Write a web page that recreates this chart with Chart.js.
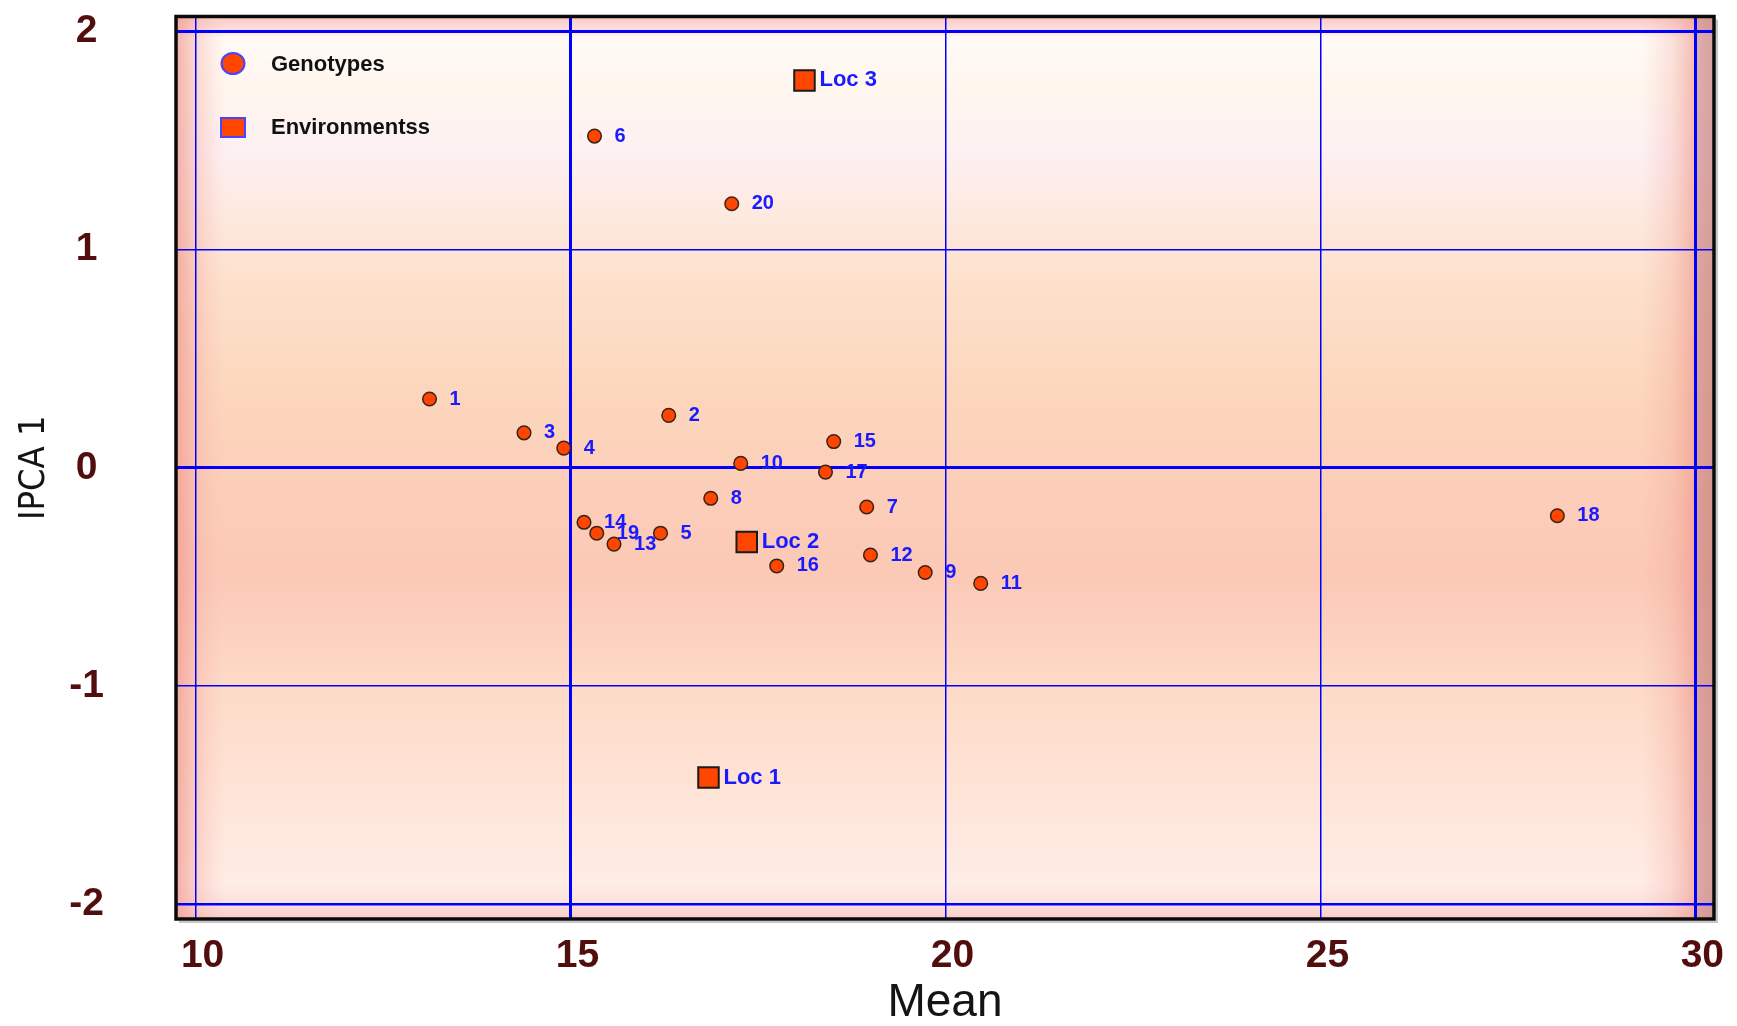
<!DOCTYPE html>
<html>
<head>
<meta charset="utf-8">
<title>AMMI biplot: Mean vs IPCA 1</title>
<script src="https://cdn.jsdelivr.net/npm/chart.js@4.4.1/dist/chart.umd.min.js"></script>
<style>
  html, body { margin: 0; padding: 0; background: #ffffff; }
  #wrap { position: relative; width: 1737px; height: 1026px; }
</style>
</head>
<body>
<div id="wrap"><canvas id="biplot"></canvas></div>
<script>
// Genotype means and first interaction principal component scores
const genotypeIds = ['1', '2', '3', '4', '5', '6', '7', '8', '9', '10',
                     '11', '12', '13', '14', '15', '16', '17', '18', '19', '20'];
const genotypeMean = [13.12, 16.31, 14.38, 14.91, 16.20, 15.32, 18.95, 16.87, 19.73, 17.27,
                      20.47, 19.00, 15.58, 15.18, 18.51, 17.75, 18.40, 28.16, 15.35, 17.15];
const genotypeIpca1 = [0.315, 0.24, 0.16, 0.09, -0.30, 1.52, -0.18, -0.14, -0.48, 0.02,
                       -0.53, -0.40, -0.35, -0.25, 0.12, -0.45, -0.02, -0.22, -0.30, 1.21];

// Test locations
const environmentNames = ['Loc 1', 'Loc 2', 'Loc 3'];
const environmentMean = [16.84, 17.35, 18.12];
const environmentIpca1 = [-1.42, -0.34, 1.775];

// Series names and axis ticks
const seriesNames = ['Genotypes', 'Environmentss'];
const meanTicks = [10, 15, 20, 25, 30];
const ipcaTicks = [-2, -1, 0, 1, 2];

const ORANGE = '#ff4500';
const TAG_BLUE = '#1a1aff';
const GRID_BLUE = '#0000ff';
const TICK_COLOR = '#520d0d';
const SANS = "'Liberation Sans', Arial, Helvetica, sans-serif";

// Soft peach/pink bevelled backdrop behind the plotting region
const plotBackdrop = {
  id: 'plotBackdrop',
  beforeDraw(chart) {
    const { ctx, chartArea: a } = chart;
    const w = a.right - a.left, h = a.bottom - a.top;
    ctx.save();
    ctx.beginPath();
    ctx.rect(a.left, a.top, w, h);
    ctx.clip();

    const v = ctx.createLinearGradient(0, a.top, 0, a.bottom);
    [
      [0.000, '#f9c8c6'], [0.016, '#fde2df'], [0.024, '#fffaf6'],
      [0.080, '#fff6ee'], [0.150, '#fdf0f2'], [0.220, '#fde9df'],
      [0.300, '#fde0cb'], [0.420, '#fcd6bc'], [0.520, '#fcceb9'],
      [0.620, '#fbc9b6'], [0.750, '#fddbc8'], [0.880, '#ffe6da'],
      [0.960, '#ffece5'], [0.985, '#fde0dc'], [1.000, '#f9cac6']
    ].forEach(([o, c]) => v.addColorStop(o, c));
    ctx.fillStyle = v;
    ctx.fillRect(a.left, a.top, w, h);

    const l = ctx.createLinearGradient(a.left, 0, a.left + 50, 0);
    l.addColorStop(0, 'rgba(240,150,140,0.72)');
    l.addColorStop(0.35, 'rgba(244,170,160,0.48)');
    l.addColorStop(1, 'rgba(250,200,190,0)');
    ctx.fillStyle = l;
    ctx.fillRect(a.left, a.top, 50, h);

    const r = ctx.createLinearGradient(a.right - 72, 0, a.right, 0);
    r.addColorStop(0, 'rgba(240,160,150,0)');
    r.addColorStop(0.40, 'rgba(240,160,150,0.25)');
    r.addColorStop(0.72, 'rgba(238,148,138,0.60)');
    r.addColorStop(0.76, 'rgba(200,128,126,0.62)');
    r.addColorStop(1, 'rgba(196,126,124,0.70)');
    ctx.fillStyle = r;
    ctx.fillRect(a.right - 72, a.top, 72, h);
    ctx.restore();
  }
};

// Black frame round the plotting region
const plotFrame = {
  id: 'plotFrame',
  afterDraw(chart) {
    const { ctx, chartArea: a } = chart;
    ctx.save();
    ctx.strokeStyle = 'rgba(0,0,0,0.22)';
    ctx.lineWidth = 2;
    ctx.beginPath();
    ctx.moveTo(a.right + 3, a.top + 3);
    ctx.lineTo(a.right + 3, a.bottom + 3);
    ctx.lineTo(a.left + 3, a.bottom + 3);
    ctx.stroke();
    ctx.strokeStyle = '#0a0a0a';
    ctx.lineWidth = 3.5;
    ctx.strokeRect(a.left, a.top, a.right - a.left, a.bottom - a.top);
    ctx.restore();
  }
};

// Names written beside each marker
const markTags = [
  { names: genotypeIds, size: 20, dx: 20 },
  { names: environmentNames, size: 22, dx: 15 }
];
const pointTags = {
  id: 'pointTags',
  afterDatasetsDraw(chart) {
    const { ctx } = chart;
    ctx.save();
    ctx.fillStyle = TAG_BLUE;
    ctx.textAlign = 'left';
    ctx.textBaseline = 'middle';
    markTags.forEach((tag, i) => {
      ctx.font = `bold ${tag.size}px ${SANS}`;
      chart.getDatasetMeta(i).data.forEach((pt, j) => {
        ctx.fillText(tag.names[j], pt.x + tag.dx, pt.y);
      });
    });
    ctx.restore();
  }
};

// Key in the upper-left corner of the plot
const cornerKey = {
  id: 'cornerKey',
  afterDatasetsDraw(chart) {
    const { ctx, chartArea: a } = chart;
    const names = chart.data.datasets.map(d => d.label);
    const cx = a.left + 57;
    ctx.save();
    ctx.fillStyle = ORANGE;
    ctx.strokeStyle = '#4646ff';
    ctx.lineWidth = 2;
    ctx.beginPath();
    ctx.ellipse(cx, a.top + 47, 11.5, 10.5, 0, 0, Math.PI * 2);
    ctx.fill();
    ctx.stroke();
    ctx.fillRect(cx - 12, a.top + 111 - 9.5, 24, 19);
    ctx.strokeRect(cx - 12, a.top + 111 - 9.5, 24, 19);

    ctx.fillStyle = '#111111';
    ctx.font = `bold 22px ${SANS}`;
    ctx.textAlign = 'left';
    ctx.textBaseline = 'middle';
    ctx.fillText(names[0], a.left + 95, a.top + 48);
    ctx.fillText(names[1], a.left + 95, a.top + 111);
    ctx.restore();
  }
};

const genotypePoints = genotypeMean.map((m, i) => ({ x: m, y: genotypeIpca1[i] }));
const environmentPoints = environmentMean.map((m, i) => ({ x: m, y: environmentIpca1[i] }));

new Chart(document.getElementById('biplot'), {
  type: 'scatter',
  data: {
    datasets: [
      {
        label: seriesNames[0],
        data: genotypePoints,
        pointStyle: 'circle',
        pointRadius: 6.8,
        pointBorderWidth: 1.5,
        backgroundColor: ORANGE,
        borderColor: '#3a2417'
      },
      {
        label: seriesNames[1],
        data: environmentPoints,
        pointStyle: 'rect',
        pointRadius: 14.5,
        pointBorderWidth: 2,
        backgroundColor: ORANGE,
        borderColor: '#1a1a1a'
      }
    ]
  },
  options: {
    responsive: true,
    maintainAspectRatio: false,
    animation: false,
    events: [],
    layout: { padding: { top: 13, right: 23, bottom: 0, left: 0 } },
    plugins: {
      legend: { display: false },
      tooltip: { enabled: false },
      title: { display: false }
    },
    scales: {
      x: {
        type: 'linear',
        min: 9.739,
        max: 30.249,
        afterBuildTicks: s => { s.ticks = meanTicks.map(v => ({ value: v })); },
        afterFit: s => { s.height = 107; },
        border: { display: false },
        grid: {
          drawTicks: false,
          color: GRID_BLUE,
          lineWidth: c => (c.tick && (c.tick.value === 15 || c.tick.value === 30)) ? 3 : 1.5
        },
        ticks: {
          padding: 14,
          labelOffset: 7,
          maxRotation: 0,
          autoSkip: false,
          color: TICK_COLOR,
          font: { family: SANS, size: 39, weight: 'bold' }
        },
        title: {
          display: true,
          text: 'Mean',
          color: '#141414',
          padding: { top: 0, bottom: 0 },
          font: { family: SANS, size: 46, weight: 'normal', lineHeight: 1 }
        }
      },
      y: {
        type: 'linear',
        min: -2.068,
        max: 2.068,
        afterBuildTicks: s => { s.ticks = ipcaTicks.map(v => ({ value: v })); },
        afterFit: s => { s.width = 176; },
        border: { display: false },
        grid: {
          drawTicks: true,
          tickLength: 69,
          tickColor: 'rgba(0,0,0,0)',
          color: GRID_BLUE,
          lineWidth: c => {
            if (!c.tick) return 1.5;
            if (c.tick.value === 2 || c.tick.value === 0) return 3;
            if (c.tick.value === -2) return 2.5;
            return 1.5;
          }
        },
        ticks: {
          padding: 3,
          crossAlign: 'center',
          autoSkip: false,
          color: TICK_COLOR,
          font: { family: SANS, size: 39, weight: 'bold', lineHeight: 0.5 }
        },
        title: {
          display: true,
          text: 'IPCA 1',
          color: '#141414',
          padding: { top: 17, bottom: 0 },
          font: { family: "'DejaVu Sans Condensed', " + SANS, size: 36, weight: 'normal', lineHeight: 1 }
        }
      }
    }
  },
  plugins: [plotBackdrop, plotFrame, pointTags, cornerKey]
});
</script>
</body>
</html>
